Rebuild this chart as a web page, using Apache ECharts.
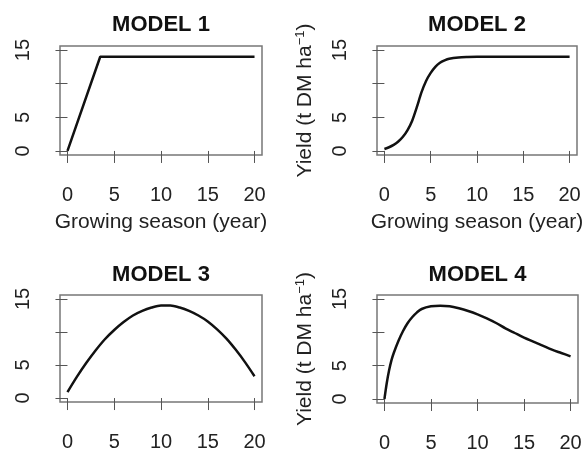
<!DOCTYPE html>
<html>
<head>
<meta charset="utf-8">
<script src="https://cdn.jsdelivr.net/npm/echarts@6/dist/echarts.min.js"></script>
<style>html,body{margin:0;padding:0;background:#fff}#c{width:583px;height:453px}</style>
</head>
<body>
<div id="c"></div>
<script>
// ---- data ----
const titles = ['MODEL 1', 'MODEL 2', 'MODEL 3', 'MODEL 4'];
const xTicks = [0, 5, 10, 15, 20];
const yTicks = [0, 5, 10, 15];
const yTickLabels = [0, 5, 15];
const xName = 'Growing season (year)';
const yName = 'Yield (t DM ha{sup|\u22121})';

const m1x = [0, 3.5, 20];
const m1y = [0, 14, 14];

const m2x = [0, 0.5, 1, 1.5, 2, 2.5, 3, 3.5, 4, 4.5, 5, 5.5, 6, 6.5, 7, 8, 9, 10, 12, 15, 20];
const m2y = [0.3, 0.55, 0.9, 1.4, 2.1, 3.1, 4.5, 6.5, 8.7, 10.4, 11.6, 12.5, 13.1, 13.45, 13.7, 13.9, 13.97, 14.0, 14.0, 14.0, 14.0];

const m3x = [0, 1, 2, 3, 4, 5, 6, 7, 8, 9, 10, 11, 12, 13, 14, 15, 16, 17, 18, 19, 20];
const m3y = [0.9, 3.2, 5.3, 7.2, 8.9, 10.3, 11.5, 12.5, 13.2, 13.7, 14.0, 14.0, 13.7, 13.2, 12.5, 11.6, 10.4, 9.0, 7.3, 5.4, 3.3];

const m4x = [0, 0.25, 0.5, 0.75, 1, 1.5, 2, 2.5, 3, 3.5, 4, 5, 6, 7, 8, 9, 10, 11, 12, 13, 14, 15, 16, 17, 18, 19, 20];
const m4y = [0, 2.4, 4.3, 5.8, 6.9, 8.7, 10.2, 11.4, 12.3, 13.0, 13.5, 13.9, 14.0, 13.9, 13.6, 13.2, 12.7, 12.1, 11.4, 10.6, 9.9, 9.2, 8.6, 8.0, 7.4, 6.9, 6.4];

const seriesX = [m1x, m2x, m3x, m4x];
const seriesY = [m1y, m2y, m3y, m4y];

// ---- layout ----
const FONT = 'Liberation Sans, Arial, Helvetica, sans-serif';
const grids = [
  {left: 60, top: 46, width: 202, height: 109},
  {left: 377, top: 46, width: 200, height: 109},
  {left: 60, top: 295, width: 202, height: 107},
  {left: 377, top: 295, width: 201, height: 108}
];

const chart = echarts.init(document.getElementById('c'), null, {renderer: 'canvas'});

const option = {
  animation: false,
  backgroundColor: '#fff',
  title: grids.map((g, i) => ({
    text: titles[i],
    left: g.left + g.width / 2,
    top: i < 2 ? 14 : 264,
    textAlign: 'center',
    padding: 0,
    textStyle: {fontFamily: FONT, fontSize: 22, fontWeight: 'bold', color: '#111'}
  })),
  grid: grids.map(g => Object.assign({
    show: true, borderColor: '#777', borderWidth: 1.5, backgroundColor: 'transparent',
    containLabel: false, outerBoundsMode: 'none'
  }, g)),
  xAxis: grids.map((g, i) => ({
    type: 'value', gridIndex: i, min: -0.8, max: 20.8,
    name: i < 2 ? xName : '',
    nameLocation: 'middle', nameGap: 57,
    nameTextStyle: {fontFamily: FONT, fontSize: 21, color: '#222'},
    axisLine: {show: false},
    splitLine: {show: false},
    axisTick: {show: true, customValues: xTicks, length: 12, lineStyle: {color: '#555', width: 1}},
    axisLabel: {customValues: xTicks, margin: 30, fontFamily: FONT, fontSize: 20, color: '#222'}
  })),
  yAxis: grids.map((g, i) => ({
    type: 'value', gridIndex: i, min: -0.6, max: 15.6,
    name: i % 2 === 1 ? yName : '',
    nameLocation: 'middle', nameGap: 60, nameRotate: 90,
    nameTextStyle: {fontFamily: FONT, fontSize: 21, color: '#222',
      rich: {sup: {fontFamily: FONT, fontSize: 13, color: '#222', verticalAlign: 'top', padding: [0, 0, 10, 0]}}},
    axisLine: {show: false},
    splitLine: {show: false},
    axisTick: {show: true, customValues: yTicks, length: 12, lineStyle: {color: '#555', width: 1}},
    axisLabel: {customValues: yTickLabels, rotate: 90, margin: 27, fontFamily: FONT, fontSize: 20, color: '#222'}
  })),
  series: seriesX.map((xs, i) => ({
    type: 'line', xAxisIndex: i, yAxisIndex: i,
    data: xs.map((x, j) => [x, seriesY[i][j]]),
    showSymbol: false, symbol: 'none',
    smooth: i === 0 ? false : 0.3,
    lineStyle: {color: '#111', width: 2.5},
    silent: true
  }))
};
chart.setOption(option);
</script>
</body>
</html>
